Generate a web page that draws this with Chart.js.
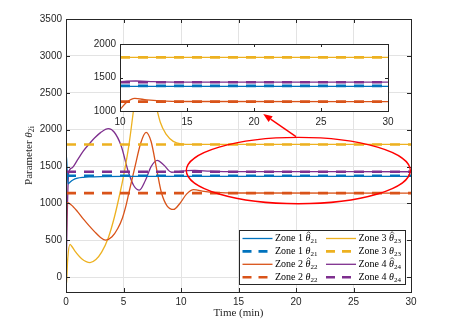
<!DOCTYPE html>
<html><head><meta charset="utf-8">
<script src="https://cdn.jsdelivr.net/npm/chart.js@4/dist/chart.umd.min.js"></script>
<style>
html,body{margin:0;padding:0;background:#fff;}
#wrap{position:relative;width:458px;height:329px;}
#wrap canvas{position:absolute;left:0;top:0;}
</style></head>
<body>
<div id="wrap"><canvas id="main" width="458" height="329"></canvas><canvas id="inset" width="458" height="329"></canvas></div>
<script>
// ---------------- data ----------------
const zone1EstT = [0, 0.04, 0.1, 0.18, 0.3, 0.6, 1, 1.5, 2, 3, 5, 30];
const zone1EstV = [1380, 1640, 1450, 1265, 1282, 1318, 1342, 1354, 1360, 1365, 1368, 1368];

const zone2EstT = [0, 0.08, 0.2, 0.6, 1, 1.5, 2, 2.5, 3, 3.45, 4, 4.5, 4.9, 5.2, 5.47, 6, 6.5, 6.96, 7.4, 7.9, 8.3, 8.8, 9.35, 9.9, 10.5, 11.1, 12, 13, 15, 30];
const zone2EstV = [0, 1010, 1008, 960, 890, 790, 700, 615, 540, 504, 548, 660, 800, 960, 1145, 1500, 1820, 1964, 1840, 1450, 1145, 965, 919, 1000, 1130, 1188, 1165, 1150, 1142, 1140];

const zone3EstT = [0, 0.05, 0.15, 0.35, 0.5, 0.78, 1.36, 2.09, 2.6, 3.1, 3.68, 4.2, 4.7, 5.1, 5.48, 5.86, 6.3, 6.8, 7.3, 7.74, 8.2, 8.7, 9.33, 10, 11, 30];
const zone3EstV = [-110, -60, 250, 446, 420, 355, 252, 199, 240, 340, 536, 810, 1145, 1450, 1800, 2250, 2750, 3000, 2800, 2400, 2100, 1940, 1842, 1808, 1801, 1800];

const zone4EstT = [0, 0.1, 0.23, 0.5, 1, 1.5, 2.09, 2.5, 3, 3.68, 4.2, 4.8, 5.42, 5.9, 6.38, 6.9, 7.4, 7.94, 8.5, 9.19, 9.8, 10.5, 11.2, 12.5, 14, 30];
const zone4EstV = [0, 800, 1415, 1480, 1590, 1710, 1820, 1890, 1960, 2013, 1965, 1780, 1430, 1240, 1180, 1310, 1500, 1585, 1520, 1423, 1430, 1445, 1448, 1438, 1432, 1430];

const trueValues = [1375, 1140, 1800, 1430];
const trueSpanMain = [0, 30];
const trueSpanInset = [10, 30];

const zoneNames = ['Zone 1', 'Zone 2', 'Zone 3', 'Zone 4'];
const zoneSubs = ['21', '22', '23', '24'];

const xTicksMain = [0, 5, 10, 15, 20, 25, 30];
const yTicksMain = [0, 500, 1000, 1500, 2000, 2500, 3000, 3500];
const xTicksInset = [10, 15, 20, 25, 30];
const yTicksInset = [1000, 1500, 2000];

// annotation (ellipse around the settled region + arrow to the inset), in data units
const ellipseCenter = [20.2, 1446];
const ellipseRadii = [9.74, 450];
const arrowFrom = [20.0, 1905];
const arrowTo = [17.15, 2212];

// ---------------- styles ----------------
const COLORS = ['#0072BD', '#D95319', '#EDB120', '#7E2F8E'];
const AXIS = '#262626';
const GRID = '#e3e3e3';
const SANS = '"Liberation Sans", Arial, sans-serif';
const SERIF = '"Liberation Serif", "DejaVu Serif", serif';

const estT = [zone1EstT, zone2EstT, zone3EstT, zone4EstT];
const estV = [zone1EstV, zone2EstV, zone3EstV, zone4EstV];

function buildDatasets(span) {
  const ds = [];
  for (let i = 0; i < 4; i++) {
    ds.push({
      label: zoneNames[i] + ' est',
      data: estT[i].map((t, k) => ({ x: t, y: estV[i][k] })),
      borderColor: COLORS[i], borderWidth: 1.3, pointRadius: 0,
      cubicInterpolationMode: 'monotone', fill: false, order: 2
    });
  }
  for (let i = 0; i < 4; i++) {
    ds.push({
      label: zoneNames[i] + ' true',
      data: span.map(t => ({ x: t, y: trueValues[i] })),
      borderColor: COLORS[i], borderWidth: 2.6, borderDash: [10, 8],
      pointRadius: 0, fill: false, order: 1
    });
  }
  return ds;
}

function drawBoxTicks(chart, xt, yt, len) {
  const { ctx, chartArea: a, scales: { x, y } } = chart;
  ctx.save();
  ctx.strokeStyle = AXIS; ctx.lineWidth = 1;
  ctx.beginPath();
  xt.forEach(v => {
    const px = Math.round(x.getPixelForValue(v)) + 0.5;
    ctx.moveTo(px, a.bottom); ctx.lineTo(px, a.bottom - len);
    ctx.moveTo(px, a.top); ctx.lineTo(px, a.top + len);
  });
  yt.forEach(v => {
    const py = Math.round(y.getPixelForValue(v)) + 0.5;
    ctx.moveTo(a.left, py); ctx.lineTo(a.left + len, py);
    ctx.moveTo(a.right, py); ctx.lineTo(a.right - len, py);
  });
  ctx.stroke();
  ctx.strokeRect(Math.round(a.left) + 0.5, Math.round(a.top) + 0.5,
    Math.round(a.right - a.left), Math.round(a.bottom - a.top));
  ctx.restore();
}

function drawThetaText(ctx, x, y, prefix, hat, sub, size) {
  ctx.font = size + 'px ' + SERIF;
  ctx.textAlign = 'left'; ctx.textBaseline = 'middle';
  ctx.fillText(prefix, x, y);
  let cx = x + ctx.measureText(prefix).width;
  ctx.font = 'italic ' + size + 'px ' + SERIF;
  const th = 'θ';
  ctx.fillText(th, cx, y);
  const tw = ctx.measureText(th).width;
  if (hat) {
    const hx = cx + tw / 2 + 0.6, hy = y - size * 0.62;
    ctx.save();
    ctx.strokeStyle = ctx.fillStyle; ctx.lineWidth = 0.7;
    ctx.beginPath();
    ctx.moveTo(hx - 1.8, hy + 1.2); ctx.lineTo(hx, hy - 0.6); ctx.lineTo(hx + 1.8, hy + 1.2);
    ctx.stroke();
    ctx.restore();
  }
  cx += tw;
  ctx.font = Math.round(size * 0.7) + 'px ' + SERIF;
  ctx.fillText(sub, cx, y + size * 0.3);
  return cx + ctx.measureText(sub).width - x;
}

const mainDecor = {
  id: 'mainDecor',
  afterDraw(chart) {
    const { ctx, chartArea: a, scales: { x, y } } = chart;
    drawBoxTicks(chart, xTicksMain, yTicksMain, 4);

    // red ellipse
    ctx.save();
    const cx = x.getPixelForValue(ellipseCenter[0]);
    const cy = y.getPixelForValue(ellipseCenter[1]);
    const rx = x.getPixelForValue(ellipseCenter[0] + ellipseRadii[0]) - cx;
    const ry = cy - y.getPixelForValue(ellipseCenter[1] + ellipseRadii[1]);
    ctx.strokeStyle = '#ff0000'; ctx.lineWidth = 1.4;
    ctx.beginPath(); ctx.ellipse(cx, cy, rx, ry, 0, 0, Math.PI * 2); ctx.stroke();
    // arrow
    const x1 = x.getPixelForValue(arrowFrom[0]), y1 = y.getPixelForValue(arrowFrom[1]);
    const x2 = x.getPixelForValue(arrowTo[0]), y2 = y.getPixelForValue(arrowTo[1]);
    const ang = Math.atan2(y2 - y1, x2 - x1);
    const hl = 9, hw = 3.6;
    const bx = x2 - hl * Math.cos(ang), by = y2 - hl * Math.sin(ang);
    ctx.beginPath(); ctx.moveTo(x1, y1); ctx.lineTo(bx, by); ctx.stroke();
    ctx.fillStyle = '#ff0000';
    ctx.beginPath();
    ctx.moveTo(x2, y2);
    ctx.lineTo(bx + hw * Math.sin(ang), by - hw * Math.cos(ang));
    ctx.lineTo(bx - hw * Math.sin(ang), by + hw * Math.cos(ang));
    ctx.closePath(); ctx.fill();
    ctx.restore();

    // legend box
    ctx.save();
    const lw = 166, lh = 54;
    const lx = a.right - 6 - lw, ly = a.bottom - 8 - lh;
    ctx.fillStyle = '#fff'; ctx.fillRect(lx, ly, lw, lh);
    ctx.strokeStyle = AXIS; ctx.lineWidth = 1;
    ctx.strokeRect(Math.round(lx) + 0.5, Math.round(ly) + 0.5, lw, lh);
    const rowH = 12.9;
    for (let c = 0; c < 2; c++) {
      for (let r = 0; r < 4; r++) {
        const zi = c * 2 + Math.floor(r / 2);
        const isEst = r % 2 === 0;
        const ry0 = ly + 8.5 + r * rowH;
        const sx = lx + 3.5 + c * 83.5;
        ctx.strokeStyle = COLORS[zi];
        ctx.lineWidth = isEst ? 1.3 : 2.6;
        ctx.setLineDash(isEst ? [] : [9, 7]);
        ctx.beginPath(); ctx.moveTo(sx, ry0); ctx.lineTo(sx + 30, ry0); ctx.stroke();
        ctx.setLineDash([]);
        ctx.fillStyle = '#000';
        drawThetaText(ctx, sx + 32.5, ry0, zoneNames[zi] + ' ', isEst, zoneSubs[zi], 10);
      }
    }
    ctx.restore();

    // y axis title with subscript
    ctx.save();
    ctx.fillStyle = AXIS;
    const size = 11;
    ctx.font = size + 'px ' + SERIF;
    const p1 = 'Parameter ';
    const w1 = ctx.measureText(p1).width;
    ctx.font = 'italic ' + size + 'px ' + SERIF;
    const w2 = ctx.measureText('θ').width;
    ctx.font = Math.round(size * 0.7) + 'px ' + SERIF;
    const w3 = ctx.measureText('2i').width;
    const total = w1 + w2 + w3;
    ctx.translate(29, (a.top + a.bottom) / 2);
    ctx.rotate(-Math.PI / 2);
    drawThetaText(ctx, -total / 2, 0, p1, false, '2i', size);
    ctx.restore();
  }
};

const plainNum = v => String(v);

new Chart(document.getElementById('main'), {
  type: 'line',
  data: { datasets: buildDatasets(trueSpanMain) },
  options: {
    responsive: false, animation: false, devicePixelRatio: 1,
    layout: { padding: { top: 19, right: 47, left: 0, bottom: 0 } },
    plugins: { legend: { display: false }, tooltip: { enabled: false } },
    scales: {
      x: {
        type: 'linear', min: 0, max: 30,
        afterBuildTicks: s => { s.ticks = xTicksMain.map(v => ({ value: v })); },
        ticks: { font: { family: SANS, size: 10 }, color: AXIS, padding: 4, maxRotation: 0, autoSkip: false, callback: plainNum },
        grid: { color: GRID, lineWidth: 1, drawTicks: false },
        border: { display: false },
        title: { display: true, text: 'Time (min)', font: { family: SERIF, size: 11 }, color: AXIS, padding: { top: 0, bottom: 9 } },
        afterFit: s => { s.height = 37; }
      },
      y: {
        type: 'linear', min: -200, max: 3500,
        afterBuildTicks: s => { s.ticks = yTicksMain.map(v => ({ value: v })); },
        ticks: { font: { family: SANS, size: 10 }, color: AXIS, padding: 4, autoSkip: false, callback: plainNum },
        grid: { color: GRID, lineWidth: 1, drawTicks: false },
        border: { display: false },
        afterFit: s => { s.width = 66; }
      }
    }
  },
  plugins: [mainDecor]
});

const insetDecor = {
  id: 'insetDecor',
  beforeDraw(chart) {
    const { ctx, chartArea: a } = chart;
    ctx.save(); ctx.fillStyle = '#fff';
    ctx.fillRect(a.left, a.top, a.right - a.left, a.bottom - a.top);
    ctx.restore();
  },
  afterDraw(chart) { drawBoxTicks(chart, xTicksInset, yTicksInset, 3); }
};

new Chart(document.getElementById('inset'), {
  type: 'line',
  data: { datasets: buildDatasets(trueSpanInset) },
  options: {
    responsive: false, animation: false, devicePixelRatio: 1,
    layout: { padding: { top: 44, right: 70, left: 0, bottom: 0 } },
    plugins: { legend: { display: false }, tooltip: { enabled: false } },
    scales: {
      x: {
        type: 'linear', min: 10, max: 30,
        afterBuildTicks: s => { s.ticks = xTicksInset.map(v => ({ value: v })); },
        ticks: { font: { family: SANS, size: 10 }, color: AXIS, padding: 5, maxRotation: 0, autoSkip: false, callback: plainNum },
        grid: { display: false, drawTicks: false },
        border: { display: false },
        afterFit: s => { s.height = 218; }
      },
      y: {
        type: 'linear', min: 1000, max: 2000,
        afterBuildTicks: s => { s.ticks = yTicksInset.map(v => ({ value: v })); },
        ticks: { font: { family: SANS, size: 10 }, color: AXIS, padding: 4, autoSkip: false, callback: plainNum },
        grid: { display: false, drawTicks: false },
        border: { display: false },
        afterFit: s => { s.width = 120; }
      }
    }
  },
  plugins: [insetDecor]
});
</script>
</body></html>
